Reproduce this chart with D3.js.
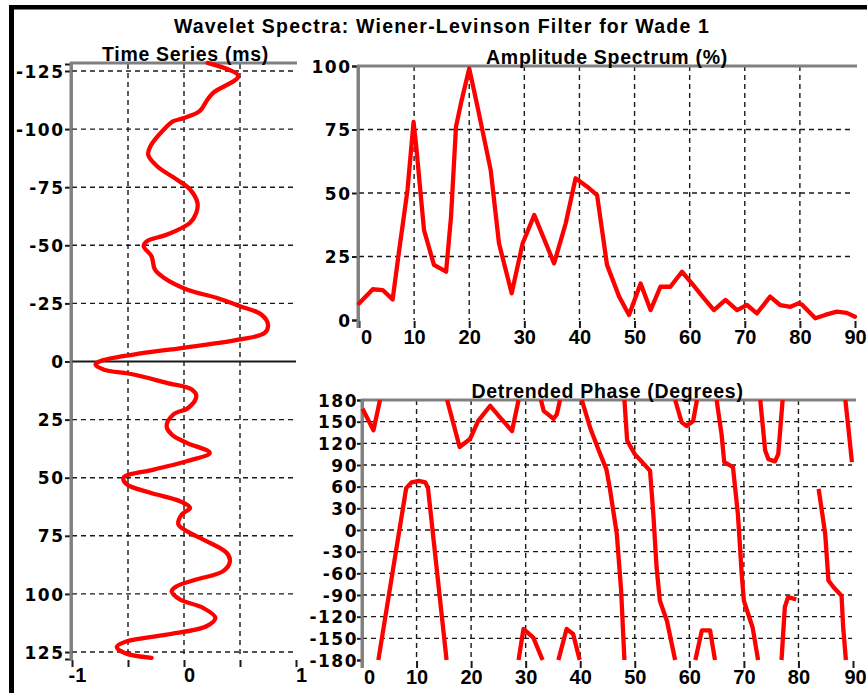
<!DOCTYPE html>
<html>
<head>
<meta charset="utf-8">
<script src="https://cdn.jsdelivr.net/npm/d3@7"></script>
<style>
  html, body { margin: 0; padding: 0; background: #fff; }
  svg { display: block; }
</style>
</head>
<body>
<script>
// ---------------- DATA ----------------
const chartTitle = "Wavelet Spectra: Wiener-Levinson Filter for Wade 1";
const panelTitles = ["Time Series (ms)", "Amplitude Spectrum (%)", "Detrended Phase (Degrees)"];

// Time series (wavelet): time in ms, normalised amplitude
const timeMs = [-128.5, -122.8, -115.6, -112, -107.7, -104.6, -103.4, -99.8, -92.6, -89, -84, -78.3, -74, -68.3, -64, -59.7, -54.6, -51.8, -49.6, -45.3, -39.6, -36, -31, -27.4, -23.8, -20.2, -15.9, -12.3, -9.5, -5.9, -3, -0.1, 1.3, 3.4, 5.6, 9.2, 12, 14.9, 19.9, 22.8, 27.8, 31.4, 35, 39.3, 42.9, 46.5, 50, 52.9, 56.5, 60.1, 63, 65.8, 70.1, 73, 77.3, 82.3, 85.9, 90.2, 93.8, 96.7, 98.8, 102.4, 106, 110.3, 113.9, 117.5, 120.4, 122.8, 125.4, 127.5];
const waveAmp = [0.21, 0.485, 0.26, 0.20, 0.14, -0.01, -0.095, -0.18, -0.30, -0.32, -0.24, -0.065, 0.054, 0.12, 0.11, 0.054, -0.15, -0.33, -0.36, -0.29, -0.26, -0.18, 0.024, 0.29, 0.5, 0.69, 0.75, 0.72, 0.5, -0.006, -0.45, -0.75, -0.79, -0.72, -0.45, -0.155, 0.07, 0.11, 0.04, -0.095, -0.155, -0.11, 0.024, 0.23, 0.024, -0.27, -0.54, -0.51, -0.30, -0.036, 0.054, -0.02, -0.05, 0.024, 0.2, 0.38, 0.41, 0.35, 0.11, -0.065, -0.11, -0.036, 0.17, 0.28, 0.2, -0.155, -0.51, -0.6, -0.53, -0.29];

// Amplitude spectrum: frequency (Hz), amplitude (%)
const ampFreq = [0, 2.5, 4.3, 6.1, 7.3, 8.8, 9.9, 10.4, 11.8, 13.6, 15.8, 16.7, 17.6, 18.5, 20.0, 21.5, 23.9, 25.4, 27.7, 29.7, 31.8, 35.4, 37.5, 39.3, 41.4, 43.2, 45.0, 47.2, 49.0, 51.1, 52.9, 54.7, 56.5, 58.6, 60.4, 62.6, 64.4, 66.5, 68.6, 70.4, 72.2, 74.6, 76.4, 78.3, 79.8, 80.4, 82.8, 84.6, 86.7, 88.5, 90];
const ampPct  = [6.5, 12.1, 11.8, 8.1, 27.6, 51.2, 78, 68, 35.4, 21.7, 19, 40.7, 76.1, 85.3, 99, 84, 59, 30.2, 10.5, 30.2, 41.3, 22.3, 38, 55.8, 52.5, 49.2, 21.7, 9.2, 2, 14.4, 3.9, 13.1, 13.1, 19, 14.4, 8.5, 3.9, 7.9, 3.9, 5.9, 2.6, 9.2, 5.9, 5.2, 6.6, 6.0, 0.7, 2, 3.3, 2.8, 1.3];

// Detrended phase, wrapped to +-180 degrees: separate pieces of [frequency, degrees]
const phaseSegments = [
  [[0.1,168],[2.1,138],[3.3,180]],
  [[3.0,-180],[8.1,58],[9.1,66],[10.4,68],[11.6,66],[12.1,58],[15.5,-180]],
  [[15.6,180],[17.9,115],[19.8,126],[21.3,151],[23.5,172],[25.3,156],[27.5,137],[28.7,180]],
  [[28.7,-180],[29.6,-137],[31.4,-149],[33.1,-180]],
  [[32.8,180],[33.3,165],[35.1,154],[35.7,160],[36.3,180]],
  [[36.0,-180],[37.5,-137],[38.7,-144],[39.9,-180]],
  [[40.3,180],[41.8,142],[43.3,112],[44.8,84],[45.4,59],[46.7,-5],[47.5,-84],[48.1,-180]],
  [[48.1,180],[48.6,124],[50,105],[52.8,82],[53.4,22],[54,-52],[54.6,-98],[55.9,-126],[57.4,-180]],
  [[57.4,180],[58.6,149],[59.5,144],[60.7,151],[61.4,180]],
  [[61.1,-180],[62.3,-139],[63.8,-139],[64.7,-180]],
  [[65,180],[65.9,133],[66.4,94],[68,87],[68.9,22],[69.3,-24],[69.6,-61],[70,-98],[71.6,-135],[72.6,-180]],
  [[73,180],[73.9,110],[74.5,98],[75.7,95],[76.3,105],[77.1,180]],
  [[76.9,-180],[77.5,-107],[78.1,-93],[79.6,-96]],
  [[83.7,57],[84.9,-5],[85.5,-70],[86.4,-79],[87.9,-91],[88.2,-135],[88.7,-180]],
  [[88.6,180],[89.2,138],[89.8,94]]
];

// Tick values
const timeTicks = [-125, -100, -75, -50, -25, 0, 25, 50, 75, 100, 125];
const waveTicks = [-1, -0.5, 0, 0.5, 1];
const waveLabels = [-1, 0, 1];
const freqTicks = [0, 10, 20, 30, 40, 50, 60, 70, 80, 90];
const ampTicks = [0, 25, 50, 75, 100];
const phaseTicks = [-180, -150, -120, -90, -60, -30, 0, 30, 60, 90, 120, 150, 180];

// ---------------- DRAWING ----------------
const W = 867, H = 693;
const svg = d3.select("body").append("svg").attr("width", W).attr("height", H);

const RED = "#ff0000", GRAY = "#808080", INK = "#1a1a1a";
const yFont = "'DejaVu Sans', sans-serif";
const xFont = "'Liberation Sans', Arial, sans-serif";

// frame
svg.append("rect").attr("x", 9).attr("y", 5).attr("width", W - 9).attr("height", 4.5).attr("fill", "#000");
svg.append("rect").attr("x", 9).attr("y", 5).attr("width", 5).attr("height", H - 5).attr("fill", "#000");

// scales
const xT = d3.scaleLinear().domain([-1, 1]).range([72, 296]);
const yT = d3.scaleLinear().domain([-128, 128]).range([64, 659]);
const xA = d3.scaleLinear().domain([0, 90]).range([359, 855]);
const yA = d3.scaleLinear().domain([0, 100]).range([320, 66]);
const xP = d3.scaleLinear().domain([0, 90]).range([362, 853]);
const yP = d3.scaleLinear().domain([-180, 180]).range([660, 400]);

function grid(g, xs, ys, xVals, yVals, x0, x1, y0, y1) {
  g.selectAll("line.v").data(xVals).join("line")
    .attr("x1", d => xs(d)).attr("x2", d => xs(d)).attr("y1", y0).attr("y2", y1);
  g.selectAll("line.h").data(yVals).join("line")
    .attr("x1", x0).attr("x2", x1).attr("y1", d => ys(d)).attr("y2", d => ys(d));
  g.selectAll("line").attr("stroke", INK).attr("stroke-width", 1.4).attr("stroke-dasharray", "5,4");
}

function styleAxis(g) {
  g.selectAll("path.domain").attr("stroke", INK).attr("stroke-width", 2);
  g.selectAll(".tick line").attr("stroke", INK).attr("stroke-width", 2);
}

function leftAxis(scale, values, x, size, pad) {
  const g = svg.append("g").attr("transform", `translate(${x},0)`)
    .call(d3.axisLeft(scale).tickValues(values).tickSize(size).tickSizeOuter(size).tickPadding(pad).tickFormat(d => String(d)));
  styleAxis(g);
  g.selectAll(".tick text").attr("font-family", yFont).attr("font-weight", "bold")
    .attr("font-size", 17).attr("letter-spacing", 1.5).attr("fill", "#000").attr("dy", "0.36em");
  return g;
}

function bottomAxis(scale, values, y, size, pad, fmt, dxf) {
  const g = svg.append("g").attr("transform", `translate(0,${y})`)
    .call(d3.axisBottom(scale).tickValues(values).tickSize(size).tickSizeOuter(0).tickPadding(pad).tickFormat(fmt));
  styleAxis(g);
  g.select("path.domain").remove();
  g.selectAll(".tick text").attr("font-family", xFont).attr("font-weight", "bold")
    .attr("font-size", 20).attr("fill", "#000").attr("dx", dxf);
  return g;
}

// ----- Time series panel -----
const gT = svg.append("g");
grid(gT, xT, yT, [-0.5, 0, 0.5], timeTicks.filter(d => d !== 0), 72, 295, 64, 656);
svg.append("line").attr("x1", 72).attr("x2", 296).attr("y1", yT(0)).attr("y2", yT(0))
  .attr("stroke", INK).attr("stroke-width", 2);
leftAxis(yT, timeTicks, 71, 6, 0.5);
bottomAxis(xT, waveTicks, 660, 7, 1, d => waveLabels.includes(d) ? String(d) : "", 5);
svg.append("line").attr("x1", 71).attr("x2", 71).attr("y1", 62).attr("y2", 661).attr("stroke", GRAY).attr("stroke-width", 3);
svg.append("line").attr("x1", 70).attr("x2", 297).attr("y1", 63).attr("y2", 63).attr("stroke", GRAY).attr("stroke-width", 3);

const waveData = timeMs.map((t, i) => [waveAmp[i], t]);
svg.append("path").datum(waveData)
  .attr("d", d3.line().x(d => xT(d[0])).y(d => yT(d[1])).curve(d3.curveCatmullRom.alpha(0.5)))
  .attr("fill", "none").attr("stroke", RED).attr("stroke-width", 4.3)
  .attr("stroke-linejoin", "round").attr("stroke-linecap", "round");

// ----- Amplitude panel -----
const gA = svg.append("g");
grid(gA, xA, yA, freqTicks.filter(d => d > 0 && d < 90), [25, 50, 75], 359, 853, 66, 320);
leftAxis(yA, ampTicks, 358, 6, 0.5);
bottomAxis(xA, freqTicks, 321, 7, 2, d => String(d), d => d === 0 ? 7 : 0);
svg.append("line").attr("x1", 358).attr("x2", 358).attr("y1", 65).attr("y2", 328).attr("stroke", GRAY).attr("stroke-width", 3);
svg.append("line").attr("x1", 357).attr("x2", 857).attr("y1", 66).attr("y2", 66).attr("stroke", GRAY).attr("stroke-width", 3);

const ampData = ampFreq.map((f, i) => [f, ampPct[i]]);
svg.append("path").datum(ampData)
  .attr("d", d3.line().x(d => xA(d[0])).y(d => yA(d[1])))
  .attr("fill", "none").attr("stroke", RED).attr("stroke-width", 4.3)
  .attr("stroke-linejoin", "round").attr("stroke-linecap", "round");

// ----- Phase panel -----
const gP = svg.append("g");
grid(gP, xP, yP, freqTicks.filter(d => d > 0 && d < 90), phaseTicks.filter(d => Math.abs(d) < 180), 362, 852, 400, 660);
leftAxis(yP, phaseTicks, 362, 5, -1);
bottomAxis(xP, freqTicks, 661, 7, 2, d => String(d), d => d === 0 ? 7 : (d === 90 ? 2 : 0));
svg.append("line").attr("x1", 362).attr("x2", 362).attr("y1", 399).attr("y2", 668).attr("stroke", GRAY).attr("stroke-width", 3);
svg.append("line").attr("x1", 361).attr("x2", 856).attr("y1", 400).attr("y2", 400).attr("stroke", GRAY).attr("stroke-width", 3);

const phaseLine = d3.line().x(d => xP(d[0])).y(d => yP(d[1]));
svg.append("g").selectAll("path").data(phaseSegments).join("path")
  .attr("d", phaseLine)
  .attr("fill", "none").attr("stroke", RED).attr("stroke-width", 4.3)
  .attr("stroke-linejoin", "round").attr("stroke-linecap", "butt");

// ----- Titles -----
function title(txt, x, y, ls) {
  svg.append("text").text(txt).attr("x", x).attr("y", y)
    .attr("text-anchor", "middle").attr("font-family", xFont).attr("font-weight", "bold")
    .attr("font-size", 19.5).attr("letter-spacing", ls).attr("fill", "#000");
}
title(chartTitle, 442, 33, 1.2);
title(panelTitles[0], 185.5, 60.5, 0.7);
title(panelTitles[1], 607, 63.5, 0.7);
title(panelTitles[2], 607.5, 397.5, 0.7);
</script>
</body>
</html>
